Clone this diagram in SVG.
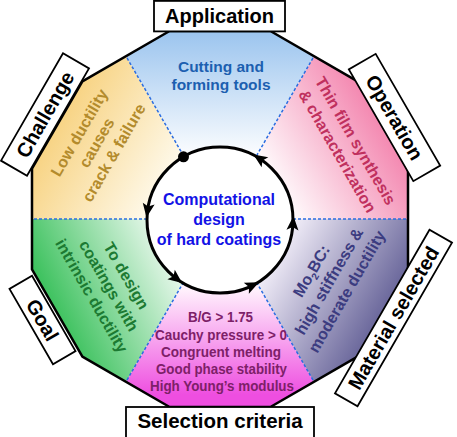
<svg xmlns="http://www.w3.org/2000/svg" width="457" height="437" viewBox="0 0 457 437">
<defs>
<style>
text { font-family: "Liberation Sans", Arial, sans-serif; font-weight: bold; }
.lbl rect { fill: #ffffff; stroke: #000000; stroke-width: 1.8; }
.lbl text { font-size: 20px; fill: #000000; text-anchor: middle; }
.sec text { text-anchor: middle; }
.crit { fill: #7d2068; font-size: 15px; }
.div { stroke: #2b6de0; stroke-width: 1.5; stroke-dasharray: 3 2; fill: none; }
.arr { fill: #000000; }
</style>
<linearGradient id="gTop" gradientUnits="userSpaceOnUse" x1="220" y1="35" x2="220" y2="160"><stop offset="0" stop-color="#9ec6ef"/><stop offset="1" stop-color="#ffffff"/></linearGradient>
<linearGradient id="gUL" gradientUnits="userSpaceOnUse" x1="45" y1="120" x2="175" y2="195"><stop offset="0" stop-color="#f7d07a"/><stop offset="1" stop-color="#fffdf5"/></linearGradient>
<linearGradient id="gUR" gradientUnits="userSpaceOnUse" x1="400" y1="120" x2="275" y2="195"><stop offset="0" stop-color="#f278a6"/><stop offset="1" stop-color="#ffffff"/></linearGradient>
<linearGradient id="gLR" gradientUnits="userSpaceOnUse" x1="285" y1="230" x2="405" y2="300"><stop offset="0" stop-color="#f4f0fa"/><stop offset="1" stop-color="#5d5a92"/></linearGradient>
<linearGradient id="gB" gradientUnits="userSpaceOnUse" x1="220" y1="290" x2="220" y2="395"><stop offset="0" stop-color="#fff0fc"/><stop offset="1" stop-color="#ee4ee0"/></linearGradient>
<linearGradient id="gLL" gradientUnits="userSpaceOnUse" x1="40" y1="290" x2="175" y2="225"><stop offset="0" stop-color="#38c05a"/><stop offset="1" stop-color="#ffffff"/></linearGradient>
<path id="ah" d="M0,-9 L6,5 L0,2 L-6,5 Z"/>
</defs>

<g id="sectors">
<polygon id="sector-application" points="220,219 314,56.2 270.4,31 169.6,31 126,56.2" fill="url(#gTop)"/>
<polygon id="sector-challenge" points="220,219 126,56.2 82.4,81.4 32,168.6 32,219" fill="url(#gUL)"/>
<polygon id="sector-goal" points="220,219 32,219 32,269.4 82.4,356.6 126,381.8" fill="url(#gLL)"/>
<polygon id="sector-selection" points="220,219 126,381.8 169.6,407 270.4,407 314,381.8" fill="url(#gB)"/>
<polygon id="sector-material" points="220,219 314,381.8 357.6,356.6 408,269.4 408,219" fill="url(#gLR)"/>
<polygon id="sector-operation" points="220,219 408,219 408,168.6 357.6,81.4 314,56.2" fill="url(#gUR)"/>
</g>

<g id="dividers">
<line class="div" x1="293" y1="219" x2="408" y2="219"/>
<line class="div" x1="256.5" y1="155.8" x2="314" y2="56.2"/>
<line class="div" x1="183.5" y1="155.8" x2="126" y2="56.2"/>
<line class="div" x1="147" y1="219" x2="32" y2="219"/>
<line class="div" x1="183.5" y1="282.2" x2="126" y2="381.8"/>
<line class="div" x1="256.5" y1="282.2" x2="314" y2="381.8"/>
</g>

<polygon id="outline" points="408,168.6 357.6,81.4 270.4,31 169.6,31 82.4,81.4 32,168.6 32,269.4 82.4,356.6 169.6,407 270.4,407 357.6,356.6 408,269.4" fill="none" stroke="#000" stroke-width="2.5" stroke-linejoin="round"/>

<g id="text-application" class="sec">
<text fill="#1c5fb0" style="font-size:15.5px"><tspan x="221" y="72">Cutting and</tspan><tspan x="221" y="90">forming tools</tspan></text>
</g>
<g id="text-challenge" class="sec">
<text fill="#b38b2c" style="font-size:16px" transform="translate(97,143) rotate(-60)"><tspan x="0" y="-15">Low ductility</tspan><tspan x="0" y="5">causes</tspan><tspan x="0" y="25">crack &amp; failure</tspan></text>
</g>
<g id="text-goal" class="sec">
<text fill="#1c7a32" style="font-size:16px" transform="translate(108.5,286) rotate(60)"><tspan x="0" y="-15">To design</tspan><tspan x="0" y="5">coatings with</tspan><tspan x="0" y="25">intrinsic ductility</tspan></text>
</g>
<g id="text-material" class="sec">
<text fill="#3c3c80" style="font-size:16px" transform="translate(329.5,281.5) rotate(-60)"><tspan x="0" y="-15.5">Mo<tspan style="font-size:10px" dy="4">2</tspan><tspan dy="-4">BC:</tspan></tspan><tspan x="0" y="5">high stiffness &amp;</tspan><tspan x="0" y="25.5">moderate ductility</tspan></text>
</g>
<g id="text-operation" class="sec">
<text fill="#c0305e" style="font-size:16px" transform="translate(346.5,146) rotate(60)"><tspan x="0" y="-5">Thin film synthesis</tspan><tspan x="0" y="16">&amp; characterization</tspan></text>
</g>
<g id="text-selection" class="sec">
<text class="crit" x="220.5" y="322" textLength="65" lengthAdjust="spacingAndGlyphs">B/G &gt; 1.75</text>
<text class="crit" x="221" y="339.5" textLength="132" lengthAdjust="spacingAndGlyphs">Cauchy pressure &gt; 0</text>
<text class="crit" x="221" y="356.5" textLength="120" lengthAdjust="spacingAndGlyphs">Congruent melting</text>
<text class="crit" x="221.5" y="373.5" textLength="131" lengthAdjust="spacingAndGlyphs">Good phase stability</text>
<text class="crit" x="222" y="390.5" textLength="144" lengthAdjust="spacingAndGlyphs">High Young’s modulus</text>
</g>

<g id="label-application" class="lbl">
<rect x="154" y="0.9" width="131" height="30.5"/>
<text x="219.5" y="23">Application</text>
</g>
<g id="label-operation" class="lbl" transform="translate(394.5,117.5) rotate(60)">
<rect x="-64.5" y="-15.5" width="129" height="31"/>
<text x="0" y="7">Operation</text>
</g>
<g id="label-material" class="lbl" transform="translate(393.5,318) rotate(-60)">
<rect x="-94.5" y="-13" width="189" height="26"/>
<text x="0" y="7">Material selected</text>
</g>
<g id="label-selection" class="lbl">
<rect x="126" y="407" width="188" height="32"/>
<text x="220" y="428" style="font-size:20.5px">Selection criteria</text>
</g>
<g id="label-goal" class="lbl" transform="translate(42.5,320) rotate(60)">
<rect x="-43.5" y="-13" width="87" height="26"/>
<text x="0" y="7">Goal</text>
</g>
<g id="label-challenge" class="lbl" transform="translate(45,114.5) rotate(-60)">
<rect x="-62" y="-15" width="124" height="30"/>
<text x="0" y="7">Challenge</text>
</g>

<g id="center">
<circle cx="220" cy="220" r="73" fill="#ffffff"/>
<text fill="#1212e6" style="font-size:16px" text-anchor="middle"><tspan x="219" y="205">Computational</tspan><tspan x="219" y="225">design</tspan><tspan x="219" y="245">of hard coatings</tspan></text>
</g>

<g id="connectors">
<circle cx="220" cy="220" r="73" fill="none" stroke="#000" stroke-width="3"/>
<circle cx="183.5" cy="156.8" r="5.5" fill="#000"/>
<use href="#ah" class="arr" transform="translate(220,220) rotate(-171) translate(73,0)"/>
<use href="#ah" class="arr" transform="translate(220,220) rotate(-232) translate(73,0)"/>
<use href="#ah" class="arr" transform="translate(220,220) rotate(-295) translate(73,0)"/>
<use href="#ah" class="arr" transform="translate(220,220) rotate(-356) translate(73,0)"/>
<use href="#ah" class="arr" transform="translate(220,220) rotate(-56) translate(73,0)"/>
</g>
</svg>
